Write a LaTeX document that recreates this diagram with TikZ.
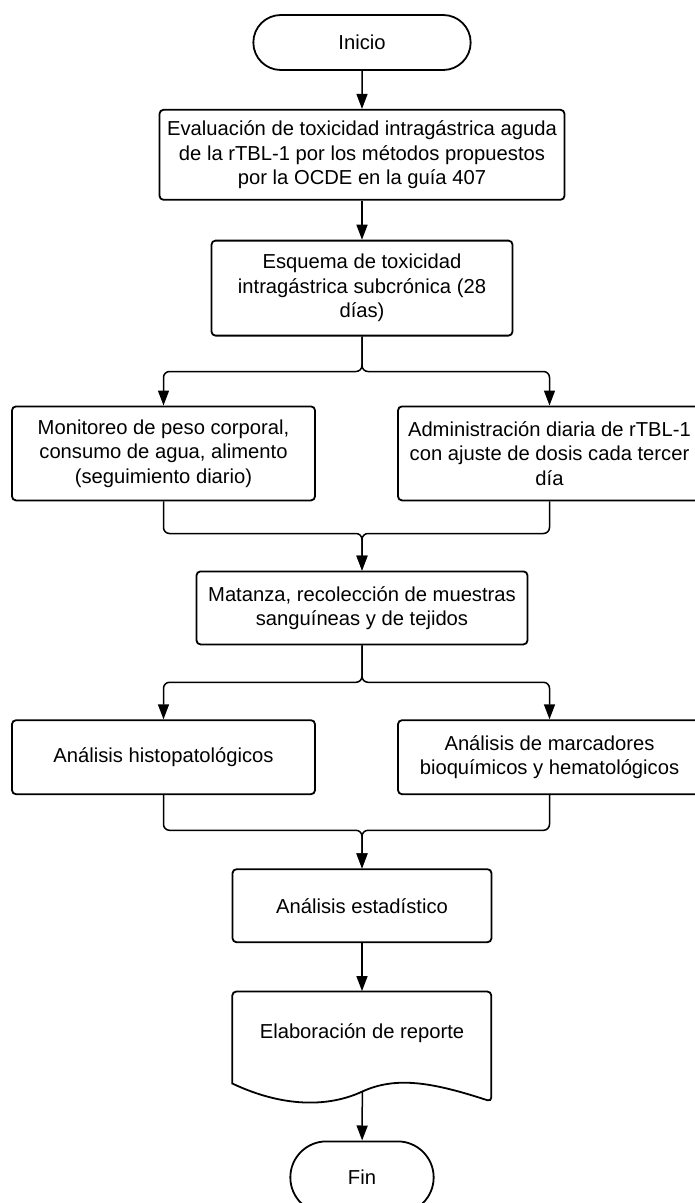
\documentclass[tikz,border=0pt]{standalone}
\usepackage{fontspec}
\setmainfont{Liberation Sans}
\usetikzlibrary{arrows.meta}
\usetikzlibrary{shapes}
\usetikzlibrary{positioning}

\begin{document}
\begin{tikzpicture}[x=1pt, y=1pt, >={Triangle[length=15pt,width=11pt]},
                    font=\fontsize{20.2}{24.5}\selectfont,
                    proceso/.style = {rectangle, draw, rounded corners=4pt, line width=1.8pt, align=center},
                    terminal/.style = {rounded rectangle, draw, line width=1.8pt},
                    flujo/.style = {->, line width=1.5pt, rounded corners=6pt}]
  \useasboundingbox (0,0) rectangle (694,-1203);
  \node [terminal, minimum width=224pt, minimum height=55pt] (inicio) at (362,-42.5) {Inicio};
  \node [proceso, minimum width=405pt, minimum height=90pt] (evaluacion) [below=38pt of inicio]
    {Evaluación de toxicidad intragástrica aguda\\de la rTBL-1 por los métodos propuestos\\por la OCDE en la guía 407};
  \node [proceso, minimum width=301pt, minimum height=95pt] (esquema) [below=39pt of evaluacion]
    {Esquema de toxicidad\\intragástrica subcrónica (28\\días)};
  \node [proceso, minimum width=303pt, minimum height=94pt] (monitoreo) [below=69pt of esquema, xshift=-198.5pt]
    {Monitoreo de peso corporal,\\consumo de agua, alimento\\(seguimiento diario)};
  \node [proceso, minimum width=303pt, minimum height=94pt] (administracion) [below=69pt of esquema, xshift=187.5pt]
    {Administración diaria de rTBL-1\\con ajuste de dosis cada tercer\\día};
  \node [proceso, minimum width=331pt, minimum height=73pt] (matanza) [below=234pt of esquema]
    {Matanza, recolección de muestras\\sanguíneas y de tejidos};
  \node [proceso, minimum width=303pt, minimum height=74pt] (histopatologia) [below=74pt of matanza, xshift=-198.5pt]
    {Análisis histopatológicos};
  \node [proceso, minimum width=303pt, minimum height=74pt] (bioquimicos) [below=74pt of matanza, xshift=187.5pt]
    {Análisis de marcadores\\bioquímicos y hematológicos};
  \node [proceso, minimum width=259pt, minimum height=73pt] (estadistico) [below=223pt of matanza]
    {Análisis estadístico};
  \node [minimum width=259pt, minimum height=84pt] (reporte) [below=48pt of estadistico]
    {Elaboración de reporte};
  \node [terminal, minimum width=150pt, minimum height=72pt] (fin) [below=65pt of reporte] {Fin};

  % hoja del documento
  \draw [line width=1.8pt, shift={(reporte.south west)}]
    (0,-8) [rounded corners=4pt] -- (0,84) -- (259,84) -- (259,-26) [sharp corners]
    .. controls (198,-6) and (163,-1) .. (130,-16) .. controls (98,-31) and (53,-33) .. (0,-8) -- cycle;

  \coordinate (division1) at ([yshift=-35pt]esquema.south);
  \coordinate (union1) at ([yshift=37pt]matanza.north);
  \coordinate (division2) at ([yshift=-37pt]matanza.south);
  \coordinate (union2) at ([yshift=38pt]estadistico.north);
  \coordinate (reporte base) at ([xshift=130pt, yshift=-16pt]reporte.south west);

  \draw [flujo] (inicio) -- (evaluacion);
  \draw [flujo] (evaluacion) -- (esquema);
  \draw [flujo] (esquema) -- (division1) -| (monitoreo);
  \draw [flujo] (esquema) -- (division1) -| (administracion);
  \draw [flujo] (monitoreo) |- (union1) -- (matanza);
  \draw [flujo] (administracion) |- (union1) -- (matanza);
  \draw [flujo] (matanza) -- (division2) -| (histopatologia);
  \draw [flujo] (matanza) -- (division2) -| (bioquimicos);
  \draw [flujo] (histopatologia) |- (union2) -- (estadistico);
  \draw [flujo] (bioquimicos) |- (union2) -- (estadistico);
  \draw [flujo] (estadistico) -- (reporte);
  \draw [flujo] (reporte base) -- (fin);
\end{tikzpicture}
\end{document}
